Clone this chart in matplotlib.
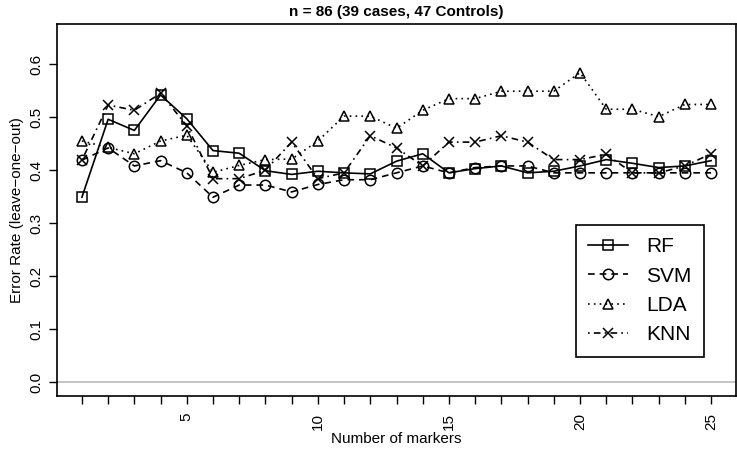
import matplotlib
matplotlib.use("Agg")
import matplotlib.pyplot as plt

plt.rcParams['font.family'] = ['Liberation Sans', 'DejaVu Sans']

# antall markorer
n_markers = list(range(1, 26))

rf = [0.349, 0.496, 0.475, 0.542, 0.497, 0.437, 0.432, 0.399, 0.392, 0.398,
      0.395, 0.393, 0.417, 0.431, 0.395, 0.403, 0.408, 0.395, 0.398, 0.408,
      0.420, 0.413, 0.405, 0.408, 0.418]
svm = [0.419, 0.442, 0.408, 0.418, 0.395, 0.349, 0.372, 0.372, 0.359, 0.373,
       0.382, 0.382, 0.395, 0.408, 0.395, 0.405, 0.408, 0.408, 0.395, 0.395,
       0.395, 0.395, 0.395, 0.395, 0.395]
lda = [0.455, 0.443, 0.431, 0.455, 0.466, 0.396, 0.409, 0.420, 0.421, 0.455,
       0.502, 0.502, 0.479, 0.513, 0.535, 0.535, 0.549, 0.549, 0.549, 0.584,
       0.515, 0.515, 0.501, 0.524, 0.524]
knn = [0.419, 0.523, 0.513, 0.545, 0.484, 0.384, 0.384, 0.400, 0.453, 0.384,
       0.395, 0.465, 0.442, 0.408, 0.453, 0.453, 0.465, 0.453, 0.420, 0.420,
       0.430, 0.395, 0.395, 0.408, 0.431]

fig = plt.figure(figsize=(7.37, 4.51), dpi=100)
ax = fig.add_axes([0.077, 0.122, 0.922, 0.825])

ax.axhline(0, color='#bbbbbb', lw=1.2, zorder=1)

mk = dict(color='black', mfc='none', mec='black', ms=7.5, mew=1.1, lw=1.2)
ax.plot(n_markers, rf, linestyle='-', marker='s', label='RF', **mk)
ax.plot(n_markers, svm, linestyle=(0, (4, 3)), marker='o', label='SVM', **mk)
ax.plot(n_markers, lda, linestyle=(0, (1, 2.5)), marker='^', label='LDA', **mk)
ax.plot(n_markers, knn, linestyle=(0, (1, 2.5, 4, 2.5)), marker='x', label='KNN', **mk)

ax.set_xlim(0.04, 25.96)
ax.set_ylim(-0.026, 0.676)
ax.set_xticks(n_markers)
ax.set_xticklabels([str(i) if i % 5 == 0 else '' for i in n_markers], rotation=90)
ax.set_yticks([0.0, 0.1, 0.2, 0.3, 0.4, 0.5, 0.6])
ax.set_yticklabels(['0.0', '0.1', '0.2', '0.3', '0.4', '0.5', '0.6'], rotation=90, va='center')
ax.tick_params(labelsize=11, length=6, width=1)
ax.tick_params(axis='x', pad=6)
for s in ax.spines.values():
    s.set_linewidth(1.2)

ax.set_xlabel('Number of markers', fontsize=11, labelpad=2)
ax.set_ylabel('Error Rate (leave\u2212one\u2212out)', fontsize=11)
ax.set_title('n = 86 (39 cases, 47 Controls)', fontsize=11, fontweight='bold', pad=6)

leg = ax.legend(loc='lower right', bbox_to_anchor=(0.953, 0.105), fontsize=15,
                fancybox=False, edgecolor='black', framealpha=1,
                handlelength=1.9, borderpad=0.6, labelspacing=0.5, handletextpad=0.9,
                borderaxespad=0)
leg.get_frame().set_linewidth(1.2)

fig.savefig('out.png', dpi=100)
